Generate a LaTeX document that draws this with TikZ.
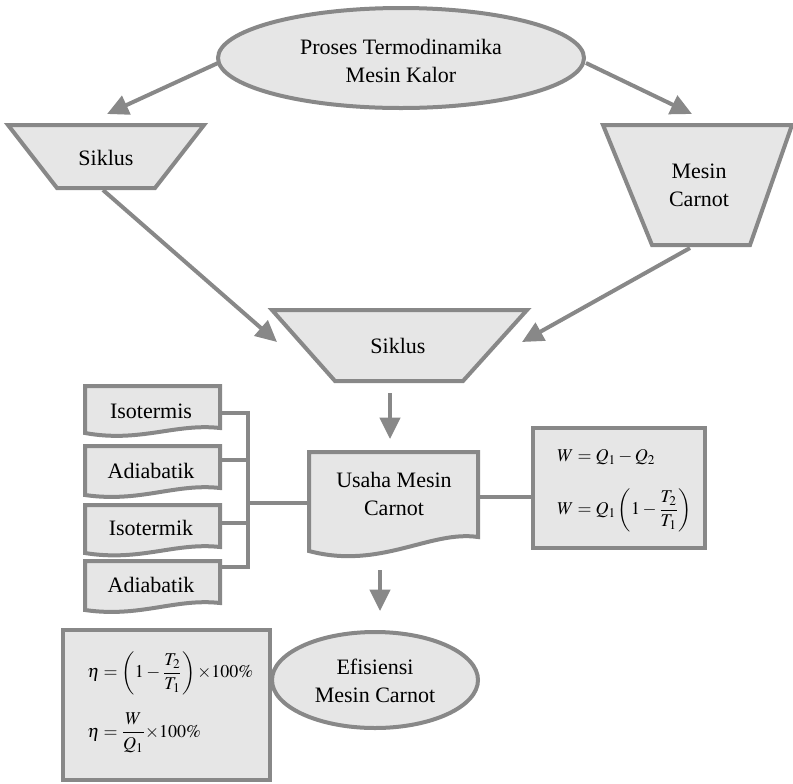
\documentclass[tikz,border=0pt]{standalone}
\usepackage{amsmath}
\usepackage{mathptmx}
\usepackage{fontspec}
\setmainfont{Liberation Serif}
\usetikzlibrary{arrows.meta,shapes.geometric}
\definecolor{edge}{HTML}{888888}
\definecolor{boxfill}{HTML}{E6E6E6}
\tikzset{
 shapeline/.style={draw=edge,fill=boxfill,line width=3pt,line join=miter},
 lbl/.style={font=\rmfamily\fontsize{16.5}{21}\selectfont,align=center,inner sep=0pt},
 mth/.style={font=\fontsize{13.5}{17}\selectfont,inner sep=0pt,anchor=west},
 arr/.style={draw=edge,line width=3pt,-{Triangle[length=16pt,width=15pt]}},
 conn/.style={draw=edge,line width=2.6pt},
 oval/.style={ellipse,shapeline,inner sep=0pt}
}
\begin{document}
\begin{tikzpicture}[x=0.75pt,y=-0.75pt]
\useasboundingbox (0,0) rectangle (793,783);
% top ellipse
\node[oval,minimum width=274.5pt,minimum height=75pt] (top) at (401,58) {};
\node[lbl] (toptxt) at (401,61) {Proses Termodinamika\\Mesin Kalor};
% left trapezoid
\draw[shapeline] (8,125) -- (204,125) -- (155,188) -- (57,188) -- cycle;
\node[lbl] (sik1) at (106,158) {Siklus};
% right trapezoid
\draw[shapeline] (603,125) -- (792,125) -- (750,245) -- (652,245) -- cycle;
\node[lbl] (mc) at (699,185) {Mesin\\Carnot};
% middle trapezoid
\draw[shapeline] (272,310) -- (527,310) -- (463,381) -- (335,381) -- cycle;
\node[lbl] (sik2) at (398,346) {Siklus};
% usaha document
\draw[shapeline] (309,452) -- (478,452) -- (478,537) .. controls (430,530) and (380,570) .. (309,551) -- cycle;
\node[lbl] (usaha) at (394,494) {Usaha Mesin\\Carnot};
% left documents
\draw[shapeline] (85,386) -- (220,386) -- (220,428) .. controls (175,423) and (140,443) .. (85,433) -- cycle;
\node[lbl] (b1) at (151,411) {Isotermis};
\draw[shapeline] (85,446) -- (220,446) -- (220,488) .. controls (175,483) and (140,503) .. (85,495) -- cycle;
\node[lbl] (b2) at (151,471) {Adiabatik};
\draw[shapeline] (85,505) -- (220,505) -- (220,547) .. controls (175,542) and (140,562) .. (85,553) -- cycle;
\node[lbl] (b3) at (151,528) {Isotermik};
\draw[shapeline] (85,561) -- (220,561) -- (220,603) .. controls (175,598) and (140,618) .. (85,610) -- cycle;
\node[lbl] (b4) at (151,585) {Adiabatik};
% bracket
\coordinate (r1) at (220,413);
\coordinate (r2) at (220,460);
\coordinate (r3) at (220,523);
\coordinate (r4) at (220,567);
\coordinate (j1) at (248,413);
\coordinate (j4) at (248,567);
\coordinate (jm) at (248,503);
\coordinate (ul) at (309,503);
\draw[conn,line join=miter] (r1) -- (j1) -- (j4) -- (r4);
\draw[conn] (r2) -- (r2 -| j1);
\draw[conn] (r3) -- (r3 -| j1);
\draw[conn] (jm) -- (ul);
% right formula box
\draw[shapeline] (533,428) rectangle (705,548);
\node[mth] (f1) at (557,457) {$W = Q_1 - Q_2$};
\node[mth] (f2) at (557,510) {$W = Q_1\left(1-\dfrac{T_2}{T_1}\right)$};
\coordinate (ur) at (478,497);
\coordinate (fl) at (533,497);
\draw[conn] (ur) -- (fl);
% bottom formula box
\draw[shapeline] (63,630) rectangle (270,780);
\node[mth] (e1) at (87,673) {$\eta = \left(1-\dfrac{T_2}{T_1}\right){\times}100\%$};
\node[mth] (e2) at (87,733) {$\eta = \dfrac{W}{Q_1}{\times}100\%$};
% efisiensi ellipse
\node[oval,minimum width=154.5pt,minimum height=72pt] (efi) at (375,680) {};
\node[lbl] (efitxt) at (375,681) {Efisiensi\\Mesin Carnot};
% arrows
\coordinate (a1s) at (218,63);
\coordinate (a1e) at (107,114);
\coordinate (a2s) at (586,63);
\coordinate (a2e) at (692,114);
\coordinate (a3s) at (103,190);
\coordinate (a3e) at (277,342);
\coordinate (a4s) at (690,248);
\coordinate (a4e) at (522,342);
\coordinate (a5s) at (390,393);
\coordinate (a5e) at (390,439);
\coordinate (a6s) at (380,570);
\coordinate (a6e) at (380,611);
\draw[arr] (a1s) -- (a1e);
\draw[arr] (a2s) -- (a2e);
\draw[arr] (a3s) -- (a3e);
\draw[arr] (a4s) -- (a4e);
\draw[arr] (a5s) -- (a5e);
\draw[arr] (a6s) -- (a6e);
\end{tikzpicture}
\end{document}
